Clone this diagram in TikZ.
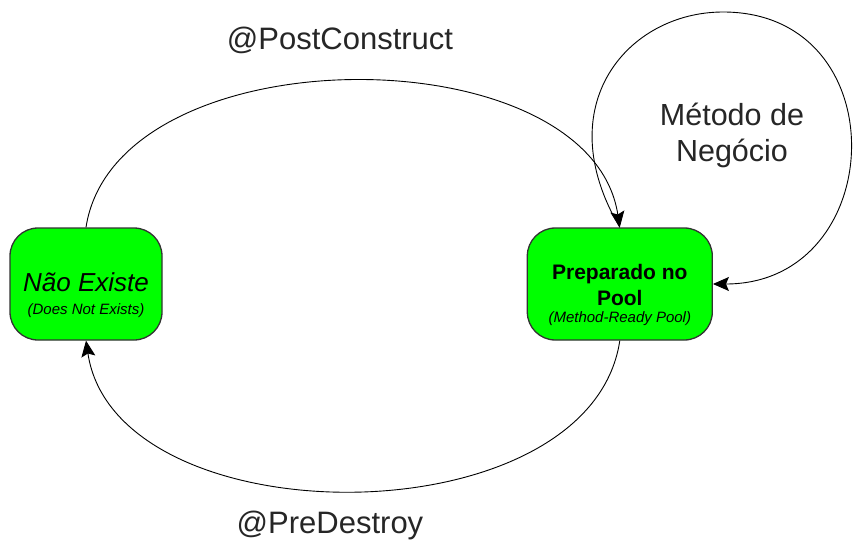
\documentclass[tikz,border=0pt]{standalone}
\usepackage{fontspec}
\setmainfont{Liberation Sans}
\usetikzlibrary{arrows.meta,positioning}

\begin{document}
\begin{tikzpicture}[x=1pt, y=1pt,
  state/.style={draw=black!80, line width=1.3pt, rounded corners=28pt, fill=green, align=center, minimum height=112pt, inner sep=0pt},
  link/.style={-{Stealth[length=16pt, width=14pt, inset=3pt]}, line width=0.9pt},
  lbl/.style={font=\fontsize{31}{36}\selectfont, text=black!85, align=center}
]
\useasboundingbox (0,0) rectangle (854,542);
\node[state, minimum width=152pt, font=\fontsize{15}{23}\selectfont\itshape] (nonexist) at (86,258)
  {\rule{0pt}{42pt}{\fontsize{26}{23}\selectfont Não Existe}\\
   (Does Not Exists)};
\node[state, minimum width=185pt, font=\fontsize{21}{26}\selectfont] (pool)
  [right=364pt of nonexist]
  {\rule{0pt}{38pt}\textbf{Preparado no}\\
   \textbf{Pool}\\[-9pt]
   {\fontsize{15}{18}\selectfont\itshape (Method-Ready Pool)}};
\coordinate (looptop) at (723,530);
\node[lbl] (postlbl) at (340,502) {@PostConstruct};
\node[lbl] (prelbl) at (330,17) {@PreDestroy};
\node[lbl, font=\fontsize{30.5}{36}\selectfont] (bizlbl) at (732,407) {Método de\\Negócio};
% transicoes
\draw[link] (nonexist.north) .. controls +(30,195) and +(-30,195) .. (pool.north);
\draw[link] (pool.south) .. controls +(-30,-200) and +(30,-200) .. (nonexist.south);
\draw[link] (pool.north) .. controls +(-72,122) and +(-95,0) .. (looptop)
  .. controls +(176,0) and +(176,0) .. (pool.east);
\end{tikzpicture}
\end{document}
